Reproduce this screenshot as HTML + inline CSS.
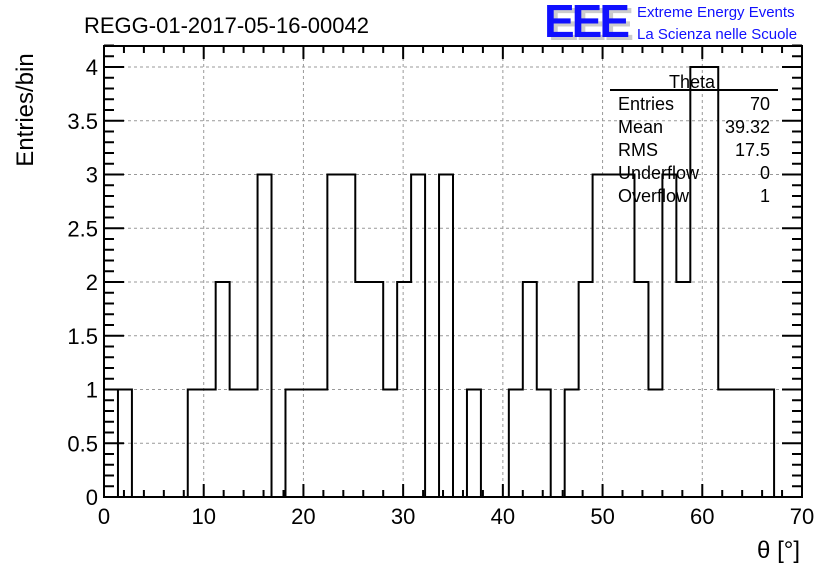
<!DOCTYPE html>
<html><head><meta charset="utf-8"><style>
body{margin:0;background:#fff}
svg text{font-family:"Liberation Sans",sans-serif}
</style></head><body>
<svg id="c" width="836" height="572" xmlns="http://www.w3.org/2000/svg">
<rect width="836" height="572" fill="#fff"/>
<text x="84" y="33" font-size="22">REGG-01-2017-05-16-00042</text>
<g>
<text x="548" y="40" font-size="46" fill="#ccc" font-weight="bold" textLength="86">EEE</text>
<text x="544" y="37" font-size="46" fill="#1010ff" font-weight="bold" textLength="86">EEE</text>
<text x="637" y="17" font-size="15" fill="#1010ff">Extreme Energy Events</text>
<text x="637" y="39" font-size="15" fill="#1010ff">La Scienza nelle Scuole</text>
</g>
<g id="grid"></g>
<g id="axes"></g>
<path id="hist" fill="none" stroke="#000" stroke-width="2"/>
<rect x="104" y="46" width="698" height="451" fill="none" stroke="#000" stroke-width="2"/>
<g font-size="18">
<text x="692" y="88" text-anchor="middle">Theta</text>
<line x1="610" y1="90" x2="778" y2="90" stroke="#000" stroke-width="2"/>
<text x="618" y="110">Entries</text><text x="770" y="110" text-anchor="end">70</text>
<text x="618" y="133">Mean</text><text x="770" y="133" text-anchor="end">39.32</text>
<text x="618" y="156">RMS</text><text x="770" y="156" text-anchor="end">17.5</text>
<text x="618" y="179">Underflow</text><text x="770" y="179" text-anchor="end">0</text>
<text x="618" y="202">Overflow</text><text x="770" y="202" text-anchor="end">1</text>
</g>
<text transform="translate(33,110) rotate(-90)" text-anchor="middle" font-size="24">Entries/bin</text>
<text x="800" y="558" text-anchor="end" font-size="24">θ [°]</text>
</svg>
<script>
const binCounts=[0,1,0,0,0,0,1,1,2,1,1,3,0,1,1,1,3,3,2,2,1,2,3,0,3,0,1,0,0,1,2,1,0,1,2,3,3,3,2,1,3,2,4,4,1,1,1,1,0,0];
const xTicks=[0,10,20,30,40,50,60,70];
const yTicks=[0,0.5,1,1.5,2,2.5,3,3.5,4];
const xMin=0,xMax=70,yMin=0,yMax=4.2;
const L=104,R=802,T=46,B=497;
const sx=v=>L+(v-xMin)/(xMax-xMin)*(R-L);
const sy=v=>B-(v-yMin)/(4-yMin)*(B-67);
const NS='http://www.w3.org/2000/svg';
function mk(t,a,p){const e=document.createElementNS(NS,t);for(const k in a)e.setAttribute(k,a[k]);p.appendChild(e);return e;}
const grid=document.getElementById('grid'),axes=document.getElementById('axes');
xTicks.forEach(v=>{if(v>xMin&&v<xMax){const g=mk('line',{x1:sx(v),x2:sx(v),y1:T,y2:B,stroke:'#999','stroke-dasharray':'3,3'},grid);

}
const t=mk('text',{x:sx(v),y:B+27,'text-anchor':'middle','font-size':'22'},axes);t.textContent=v;

});
yTicks.forEach(v=>{if(v>yMin){const g=mk('line',{x1:L,x2:R,y1:sy(v),y2:sy(v),stroke:'#999','stroke-dasharray':'3,3'},grid);

}
const t=mk('text',{x:L-6,y:sy(v)+8,'text-anchor':'end','font-size':'22'},axes);t.textContent=v;

});
let d='';
for(let v=0;v<=70;v+=2){const M=v%10===0,len=M?13:7,x=sx(v);d+=`M${x},${B}v${-len}M${x},${T}v${len}`;}
for(let i=0;i<=42;i++){const v=i*0.1,M=i%5===0,len=M?20:10,y=sy(v);d+=`M${L},${y}h${len}M${R},${y}h${-len}`;}
const tk=mk('path',{d:d,stroke:'#000','stroke-width':'2',fill:'none'},axes);


const bw=(xMax-xMin)/binCounts.length;
let h=`M${sx(0)},${sy(0)}`;
binCounts.forEach((c,i)=>{h+=`L${sx(i*bw)},${sy(c)}L${sx((i+1)*bw)},${sy(c)}`;});
h+=`L${sx(xMax)},${sy(0)}`;
document.getElementById('hist').setAttribute('d',h);
</script>
</body></html>
